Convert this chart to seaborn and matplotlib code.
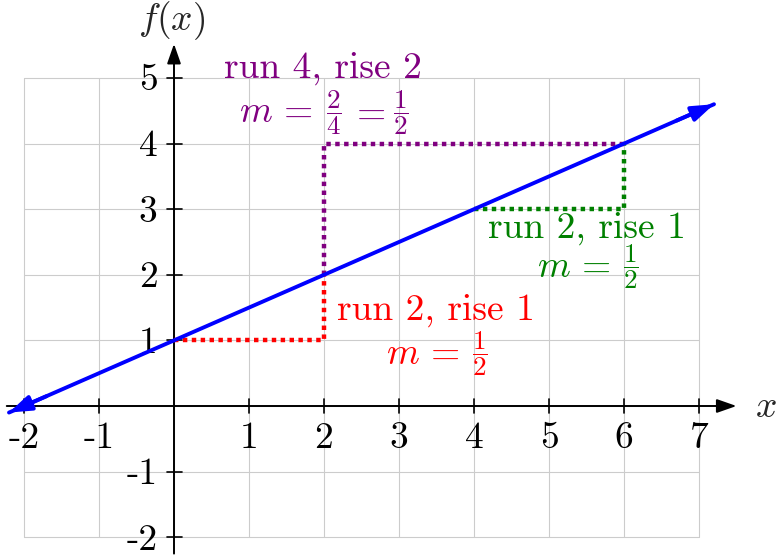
import matplotlib
matplotlib.use("Agg")
import matplotlib.pyplot as plt
import seaborn as sns
import numpy as np
import pandas as pd

sns.set_theme(style="white")
plt.rcParams['mathtext.fontset'] = 'cm'
plt.rcParams['font.family'] = ['cmr10', 'DejaVu Serif']
plt.rcParams['axes.unicode_minus'] = False

# data
line_x = [-2.2, 7.2]
line_y = [-0.1, 4.6]
red_x = [0, 2, 2]
red_y = [1, 1, 2]
purple_x = [2, 2, 6]
purple_y = [2, 4, 4]
green_x = [4, 6, 6]
green_y = [3, 3, 4]
x_ticks = [-2, -1, 1, 2, 3, 4, 5, 6, 7]
y_ticks = [-2, -1, 1, 2, 3, 4, 5]
x_tick_labels = ['-2', '-1', '1', '2', '3', '4', '5', '6', '7']
y_tick_labels = ['-2', '-1', '1', '2', '3', '4', '5']

fig = plt.figure(figsize=(7.78, 5.6), dpi=100)
ax = fig.add_axes([0, 0, 1, 1])
ax.set_xlim(-174 / 75, (778 - 174) / 75)
ax.set_ylim((406 - 560) / 65.6, 406 / 65.6)
ax.axis('off')

# grid
gc = '#cccccc'
for gx in range(-2, 8):
    ax.plot([gx, gx], [-2, 5], color=gc, lw=0.8, zorder=1)
for gy in range(-2, 6):
    ax.plot([-2, 7], [gy, gy], color=gc, lw=0.8, zorder=1)

# axes
ax.annotate('', xy=(7.5, 0), xytext=(-2.23, 0),
            arrowprops=dict(arrowstyle='-|>,head_length=1.0,head_width=0.35', color='black', lw=1.4, shrinkA=0, shrinkB=0), zorder=3)
ax.annotate('', xy=(0, 5.52), xytext=(0, -2.25),
            arrowprops=dict(arrowstyle='-|>,head_length=1.0,head_width=0.35', color='black', lw=1.4, shrinkA=0, shrinkB=0), zorder=3)
tx = 0.1
ty = 0.1
for v in x_ticks:
    ax.plot([v, v], [-ty, ty], color='black', lw=1.2, zorder=3)
for v in y_ticks:
    ax.plot([-tx, tx], [v, v], color='black', lw=1.2, zorder=3)

fs = 27
ffs = 19.5
for v, s in zip(x_ticks, x_tick_labels):
    ax.text(v, -0.64, s, ha='center', va='baseline', fontsize=fs, color='black')
for v, s in zip(y_ticks, y_tick_labels):
    ax.text(-0.22, v - 0.19, s, ha='right', va='baseline', fontsize=fs, color='black')
ax.text(7.75, -0.17, r'$x$', ha='left', va='baseline', fontsize=fs)
ax.text(-0.03, 5.73, r'$f(x)$', ha='center', va='baseline', fontsize=fs)

# dotted segments
sns.lineplot(x=red_x, y=red_y, sort=False, color='red', lw=3.2, linestyle=(0, (1, 1)), ax=ax, zorder=4, estimator=None)
sns.lineplot(x=purple_x, y=purple_y, sort=False, color='purple', lw=3.2, linestyle=(0, (1, 1)), ax=ax, zorder=4, estimator=None)
sns.lineplot(x=green_x, y=green_y, sort=False, color='green', lw=3.2, linestyle=(0, (1, 1)), ax=ax, zorder=4, estimator=None)

# main line
sns.lineplot(x=line_x, y=line_y, sort=False, color='blue', lw=2.8, ax=ax, zorder=5, estimator=None)
ax.annotate('', xy=(line_x[1], line_y[1]), xytext=(line_x[1] - 0.5, line_y[1] - 0.25),
            arrowprops=dict(arrowstyle='-|>,head_length=1.1,head_width=0.38', color='blue', lw=2.8, shrinkA=0, shrinkB=0), zorder=6)
ax.annotate('', xy=(line_x[0], line_y[0]), xytext=(line_x[0] + 0.5, line_y[0] + 0.25),
            arrowprops=dict(arrowstyle='-|>,head_length=1.1,head_width=0.38', color='blue', lw=2.8, shrinkA=0, shrinkB=0), zorder=6)


def px(p):
    return (p - 174) / 75


# labels: purple
ax.text(1.99, 5.0, 'run 4, rise 2', color='purple', ha='center', va='baseline', fontsize=fs)
ax.text(px(239), 4.47, r'$m\,=$', color='purple', ha='left', va='center', fontsize=fs)
ax.text(px(326), 4.47, r'$\dfrac{2}{4}$', color='purple', ha='left', va='center', fontsize=ffs)
ax.text(px(368), 4.47, r'$=$', color='purple', ha='center', va='center', fontsize=fs)
ax.text(px(393), 4.47, r'$\dfrac{1}{2}$', color='purple', ha='left', va='center', fontsize=ffs)
# green
ax.text(5.51, 2.56, 'run 2, rise 1', color='green', ha='center', va='baseline', fontsize=fs)
ax.text(px(537), 2.12, r'$m\,=$', color='green', ha='left', va='center', fontsize=fs)
ax.text(px(623), 2.12, r'$\dfrac{1}{2}$', color='green', ha='left', va='center', fontsize=ffs)
# red
ax.text(3.49, 1.31, 'run 2, rise 1', color='red', ha='center', va='baseline', fontsize=fs)
ax.text(px(386), 0.79, r'$m\,=$', color='red', ha='left', va='center', fontsize=fs)
ax.text(px(472), 0.79, r'$\dfrac{1}{2}$', color='red', ha='left', va='center', fontsize=ffs)

if ax.get_legend():
    ax.get_legend().remove()
fig.savefig('out.png', dpi=100)
